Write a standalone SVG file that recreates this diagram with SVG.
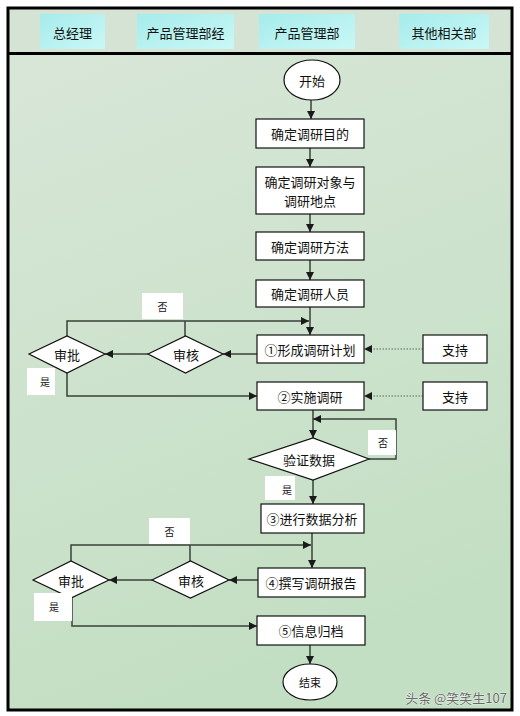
<svg xmlns="http://www.w3.org/2000/svg" width="520" height="716" viewBox="0 0 520 716">
<defs>
<linearGradient id="bodyg" x1="0" y1="0" x2="0.3" y2="1">
<stop offset="0" stop-color="#d8e6d8"/>
<stop offset="1" stop-color="#c3dfc3"/>
</linearGradient>
<linearGradient id="cellg" x1="0" y1="0" x2="1" y2="1">
<stop offset="0" stop-color="#a6ebeb"/>
<stop offset="1" stop-color="#c9f8f6"/>
</linearGradient>
<marker id="ah" viewBox="0 0 10 10" refX="10" refY="5" markerWidth="8" markerHeight="8" markerUnits="userSpaceOnUse" orient="auto">
<path d="M0,0 L10,5 L0,10 z" fill="#1a1a1a"/>
</marker>
</defs>
<style>
text{font-family:"Noto Sans CJK SC","Liberation Sans",sans-serif;fill:#111;text-anchor:middle;dominant-baseline:central}
.t{font-size:13px}
.s{font-size:10px}
.box{fill:#fff;stroke:#111;stroke-width:1.2}
.lbl{fill:#fff}
.ln{fill:none;stroke:#3a4238;stroke-width:1.5}
.dot{fill:none;stroke:#5a6a5a;stroke-width:1;stroke-dasharray:1.5 1.5}
.cell{fill:url(#cellg)}
</style>
<rect x="0" y="0" width="520" height="716" fill="#fff"/>
<rect x="8" y="8" width="504" height="46" fill="#d5e3d5"/>
<rect x="8" y="54" width="504" height="656" fill="url(#bodyg)"/>
<g id="header">
<rect class="cell" x="40" y="14" width="65" height="35"/>
<text class="t" x="72.5" y="32">总经理</text>
<rect class="cell" x="137" y="14" width="97" height="35"/>
<text class="t" x="185.5" y="32">产品管理部经</text>
<rect class="cell" x="259" y="14" width="96" height="35"/>
<text class="t" x="307" y="32">产品管理部</text>
<rect class="cell" x="399" y="14" width="90" height="35"/>
<text class="t" x="444" y="32">其他相关部</text>
</g>
<rect x="8" y="8" width="504" height="702" fill="none" stroke="#000" stroke-width="3"/>
<line x1="8" y1="53.5" x2="512" y2="53.5" stroke="#000" stroke-width="3"/>

<g id="connectors">
<line class="ln" x1="311" y1="100" x2="311" y2="119" marker-end="url(#ah)"/>
<line class="ln" x1="310" y1="148" x2="310" y2="167" marker-end="url(#ah)"/>
<line class="ln" x1="310" y1="214" x2="310" y2="232" marker-end="url(#ah)"/>
<line class="ln" x1="310" y1="260" x2="310" y2="280" marker-end="url(#ah)"/>
<line class="ln" x1="310" y1="307" x2="310" y2="335" marker-end="url(#ah)"/>
<polyline class="ln" points="67,336 67,321 309,321" marker-end="url(#ah)"/>
<line class="ln" x1="185" y1="336" x2="185" y2="321"/>
<line class="ln" x1="257" y1="354" x2="223" y2="354" marker-end="url(#ah)"/>
<line class="ln" x1="148" y1="354" x2="105" y2="354" marker-end="url(#ah)"/>
<polyline class="ln" points="67,373 67,396 257,396" marker-end="url(#ah)"/>
<line class="dot" x1="423" y1="349" x2="372" y2="349"/>
<path d="M364,349 L372,345 L372,353 z" fill="#1a1a1a"/>
<line class="dot" x1="423" y1="396" x2="372" y2="396"/>
<path d="M364,396 L372,392 L372,400 z" fill="#1a1a1a"/>
<line class="ln" x1="313" y1="410" x2="313" y2="438" marker-end="url(#ah)"/>
<polyline class="ln" points="369,459 396,459 396,419 313,419" marker-end="url(#ah)"/>
<line class="ln" x1="313" y1="480" x2="313" y2="504" marker-end="url(#ah)"/>
<line class="ln" x1="312" y1="533" x2="312" y2="568" marker-end="url(#ah)"/>
<polyline class="ln" points="71,561 71,545 311,545" marker-end="url(#ah)"/>
<line class="ln" x1="190" y1="561" x2="190" y2="545"/>
<line class="ln" x1="258" y1="580" x2="229" y2="580" marker-end="url(#ah)"/>
<line class="ln" x1="152" y1="580" x2="109" y2="580" marker-end="url(#ah)"/>
<polyline class="ln" points="72,598 72,626 257,626" marker-end="url(#ah)"/>
<line class="ln" x1="310" y1="645" x2="310" y2="664" marker-end="url(#ah)"/>
</g>

<g id="start"><ellipse class="box" cx="312" cy="80" rx="28" ry="20"/><text class="t" x="312" y="80">开始</text></g>
<g id="n1"><rect class="box" x="256" y="119" width="108" height="29"/><text class="t" x="310" y="133.5">确定调研目的</text></g>
<g id="n2"><rect class="box" x="256" y="167" width="108" height="47"/><text class="t" x="310" y="181">确定调研对象与</text><text class="t" x="310" y="200">调研地点</text></g>
<g id="n3"><rect class="box" x="256" y="232" width="108" height="28"/><text class="t" x="310" y="246">确定调研方法</text></g>
<g id="n4"><rect class="box" x="256" y="280" width="108" height="27"/><text class="t" x="310" y="293.5">确定调研人员</text></g>
<g id="n5"><rect class="box" x="257" y="335" width="107" height="28"/><text class="t" x="310" y="349">①形成调研计划</text></g>
<g id="n6"><rect class="box" x="257" y="382" width="107" height="28"/><text class="t" x="310" y="396">②实施调研</text></g>
<g id="sup1"><rect class="box" x="423" y="335" width="64" height="28"/><text class="t" x="455" y="349">支持</text></g>
<g id="sup2"><rect class="box" x="423" y="382" width="64" height="28"/><text class="t" x="455" y="396">支持</text></g>
<g id="rev1"><polygon class="box" points="148,354 185.5,336 223,354 185.5,373"/><text class="t" x="186" y="354">审核</text></g>
<g id="app1"><polygon class="box" points="29,354 67,336 105,354 67,373"/><text class="t" x="67" y="354">审批</text></g>
<g id="lbl1"><rect class="lbl" x="142" y="293" width="41" height="26"/><text class="s" x="162.5" y="306">否</text></g>
<g id="lbl2"><rect class="lbl" x="27" y="368" width="28" height="27"/><text class="s" x="45" y="381">是</text></g>
<g id="verify"><polygon class="box" points="249,459 313,438 369,459 313,480"/><text class="t" x="309" y="459">验证数据</text></g>
<g id="lbl3"><rect class="lbl" x="368" y="430" width="28" height="25"/><text class="s" x="383" y="442">否</text></g>
<g id="lbl4"><rect class="lbl" x="265" y="476" width="30" height="24"/><text class="s" x="287" y="489">是</text></g>
<g id="n7"><rect class="box" x="261" y="504" width="103" height="29"/><text class="t" x="312" y="518.5">③进行数据分析</text></g>
<g id="n8"><rect class="box" x="258" y="568" width="107" height="29"/><text class="t" x="311" y="582.5">④撰写调研报告</text></g>
<g id="rev2"><polygon class="box" points="152,580 190.5,561 229,580 190.5,598"/><text class="t" x="191" y="580">审核</text></g>
<g id="app2"><polygon class="box" points="33,580 71,561 109,580 71,598"/><text class="t" x="71" y="580">审批</text></g>
<g id="lbl5"><rect class="lbl" x="149" y="518" width="41" height="26"/><text class="s" x="169.5" y="531">否</text></g>
<g id="lbl6"><rect class="lbl" x="34" y="593" width="38" height="28"/><text class="s" x="54" y="606">是</text></g>
<g id="n9"><rect class="box" x="257" y="616" width="108" height="29"/><text class="t" x="311" y="630.5">⑤信息归档</text></g>
<g id="end"><ellipse class="box" cx="310" cy="682" rx="27" ry="18"/><text x="310" y="682" font-size="11">结束</text></g>
<text x="507" y="697" font-size="13" style="text-anchor:end;fill:#6a6a6a;stroke:#fff;stroke-width:0.6;paint-order:stroke">头条 @笑笑生107</text>
</svg>
